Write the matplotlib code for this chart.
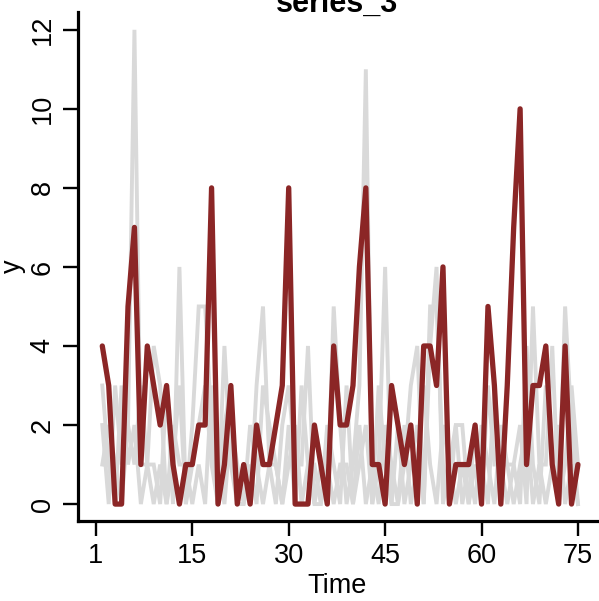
import numpy as np
import matplotlib
matplotlib.use("Agg")
import matplotlib.pyplot as plt

plt.rcParams['font.family'] = ['Liberation Sans', 'DejaVu Sans']

# Data
time = np.arange(1, 76)

series_3 = [4, 3, 0, 0, 5, 7, 1, 4, 3, 2,
            3, 1, 0, 1, 1, 2, 2, 8, 0, 1,
            3, 0, 1, 0, 2, 1, 1, 2, 3, 8,
            0, 0, 0, 2, 1, 0, 4, 2, 2, 3,
            6, 8, 1, 1, 0, 3, 2, 1, 2, 0,
            4, 4, 3, 6, 0, 1, 1, 1, 2, 0,
            5, 3, 0, 3, 7, 10, 1, 3, 3, 4,
            1, 0, 4, 0, 1]

other_1 = [2, 0, 3, 1, 2, 12, 1, 1, 1, 0,
           3, 0, 6, 0, 2, 5, 5, 2, 0, 4,
           1, 0, 1, 0, 3, 5, 1, 0, 2, 3,
           1, 1, 4, 0, 1, 0, 5, 2, 0, 1,
           3, 11, 0, 1, 6, 0, 0, 1, 3, 4,
           0, 5, 5, 1, 0, 2, 2, 0, 1, 0,
           3, 1, 1, 1, 1, 2, 0, 5, 1, 1,
           4, 0, 5, 2, 0]

other_2 = [3, 1, 0, 3, 1, 2, 0, 1, 4, 3,
           0, 1, 3, 0, 1, 2, 3, 1, 0, 2,
           3, 0, 0, 1, 0, 3, 2, 1, 0, 2,
           0, 3, 1, 0, 0, 2, 1, 0, 3, 0,
           1, 2, 0, 3, 1, 0, 2, 0, 1, 2,
           0, 4, 6, 0, 1, 0, 1, 0, 2, 1,
           0, 3, 1, 0, 1, 0, 4, 1, 0, 3,
           1, 0, 1, 3, 1]

other_3 = [1, 2, 1, 0, 2, 1, 3, 1, 0, 1,
           0, 2, 1, 1, 0, 1, 0, 3, 1, 0,
           2, 1, 0, 2, 1, 0, 1, 1, 0, 1,
           2, 0, 1, 1, 0, 1, 0, 1, 1, 0,
           2, 0, 1, 0, 2, 1, 0, 2, 0, 1,
           3, 1, 0, 2, 1, 2, 0, 1, 0, 2,
           1, 0, 2, 1, 0, 1, 2, 0, 1, 0,
           1, 2, 0, 1, 0]

xtick_pos = [0, 15, 30, 45, 60, 75]
xtick_labels = ['1', '15', '30', '45', '60', '75']
ytick_pos = [0, 2, 4, 6, 8, 10, 12]

# Plot
fig = plt.figure(figsize=(5.99, 6.01), dpi=100)
ax = fig.add_axes([0.130, 0.133, 0.866, 0.847])

for s in [other_1, other_2, other_3]:
    ax.plot(time, s, color='#d9d9d9', lw=2.8, solid_joinstyle='miter')
ax.plot(time, series_3, color='#8b2626', lw=3.8, solid_joinstyle='round',
        solid_capstyle='round')

ax.set_xlim(-2.8, 77.9)
ax.set_ylim(-0.43, 12.45)

for side in ['top', 'right']:
    ax.spines[side].set_visible(False)
for side in ['left', 'bottom']:
    ax.spines[side].set_linewidth(2.3)

ax.set_xticks(xtick_pos)
ax.set_xticklabels(xtick_labels)
ax.set_yticks(ytick_pos)
ax.set_yticklabels([str(v) for v in ytick_pos], rotation=90, va='center')
ax.tick_params(axis='both', length=11, width=1.7, labelsize=19.5, pad=5)

ax.set_xlabel('Time', fontsize=19.5, labelpad=3)
ax.set_ylabel('y', fontsize=19.5, labelpad=3)
# title sits right on the top edge of the plot region, partly clipped
ax.text(0.5, 1.0, 'series_3', transform=ax.transAxes, ha='center',
        va='baseline', fontsize=22, fontweight='bold')

fig.savefig('out.png', dpi=100)
